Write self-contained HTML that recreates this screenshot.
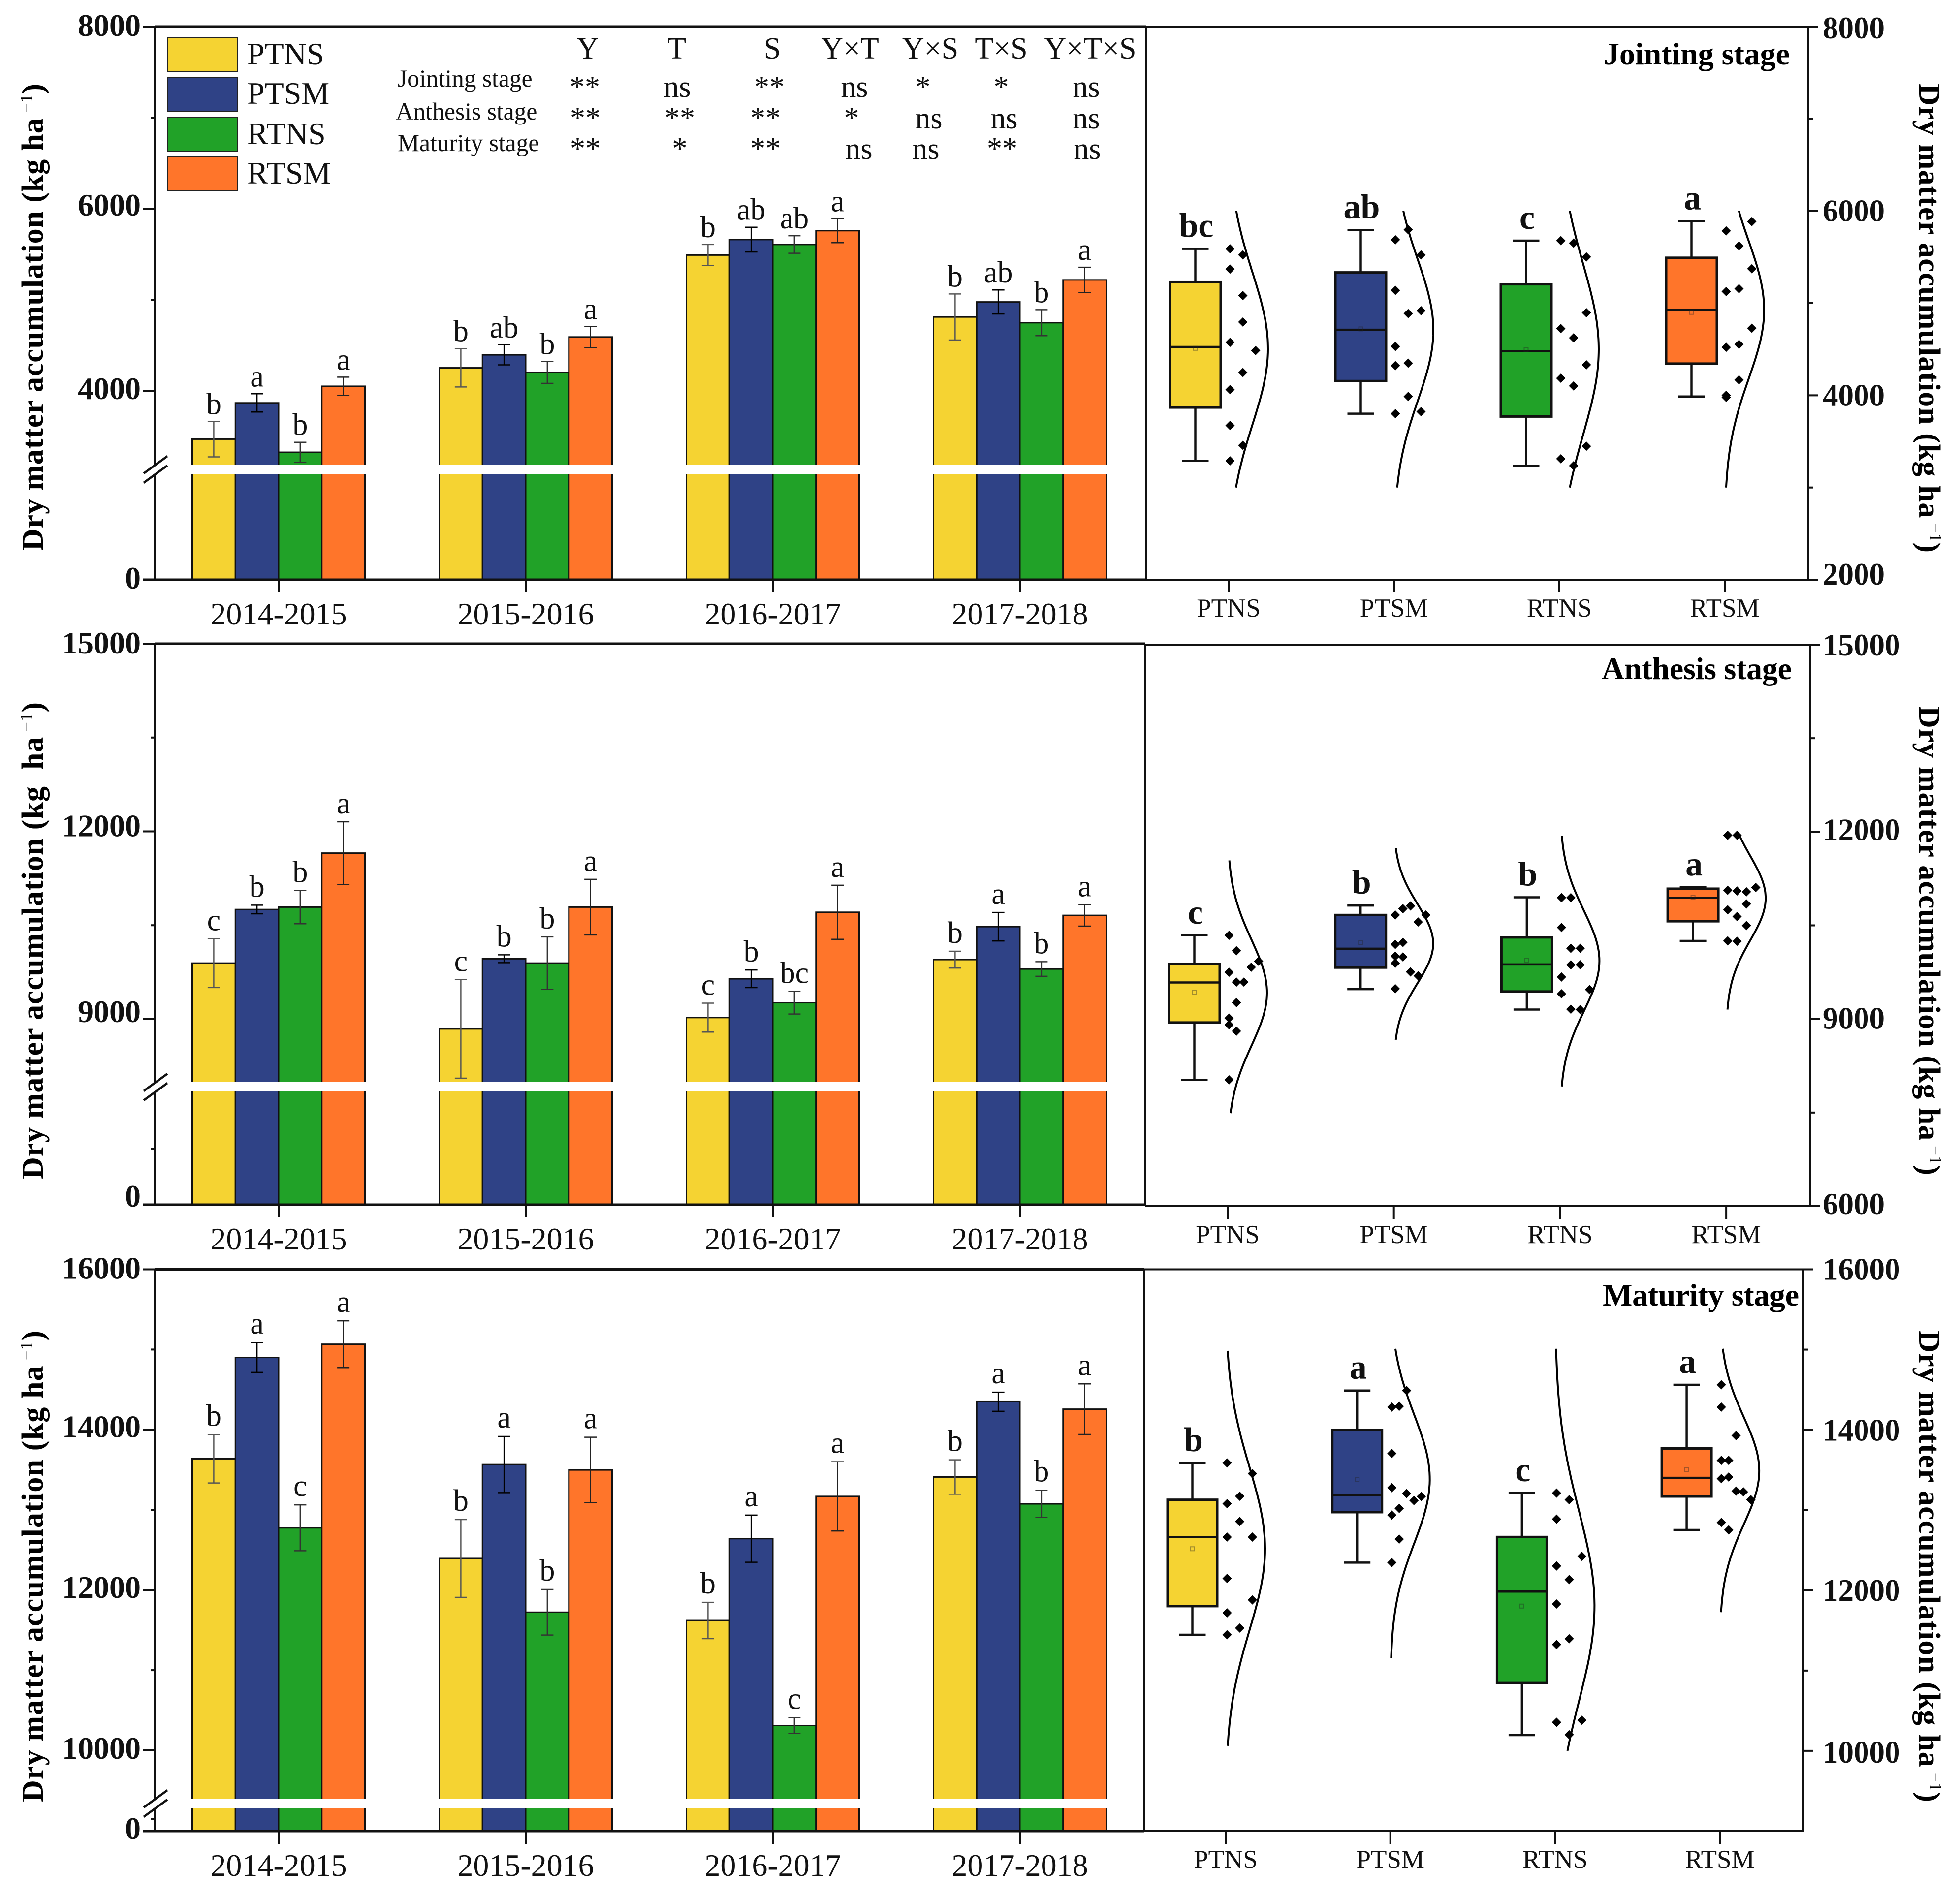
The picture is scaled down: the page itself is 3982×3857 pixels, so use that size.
<!DOCTYPE html>
<html lang="en">
<head>
<meta charset="utf-8">
<title>Dry matter accumulation by stage</title>
<style>
html,body{margin:0;padding:0;background:#fff;}
svg{display:block;font-family:"Liberation Serif",serif;}
.sig{font-size:62px;text-anchor:middle;fill:#111;}
.row{font-size:49.5px;fill:#111;}
.legend{font-size:64px;fill:#111;}
.stage{font-size:64px;font-weight:bold;fill:#000;}
.ytitle{font-size:62px;font-weight:bold;fill:#000;}
.sup{font-size:35px;font-weight:normal;}
.minus{font-size:35px;font-weight:normal;fill:#aaa;}
</style>
</head>
<body>
<svg id="chart" xmlns="http://www.w3.org/2000/svg" width="3982" height="3857" viewBox="0 0 3982 3857">
  <rect x="0" y="0" width="3982" height="3857" fill="#fff"/>
  <g id="marks"></g>

  <g>
    <rect x="340" y="77" width="142" height="68" fill="#F5D332" stroke="#222" stroke-width="2"/>
    <rect x="340" y="158" width="142" height="68" fill="#2F4286" stroke="#222" stroke-width="2"/>
    <rect x="340" y="238" width="142" height="69" fill="#21A228" stroke="#222" stroke-width="2"/>
    <rect x="340" y="318" width="142" height="69" fill="#FF752A" stroke="#222" stroke-width="2"/>
    <text class="legend" x="502" y="131">PTNS</text>
    <text class="legend" x="502" y="211">PTSM</text>
    <text class="legend" x="502" y="293">RTNS</text>
    <text class="legend" x="502" y="373">RTSM</text>
  </g>

  <g>
    <text class="sig" x="1194" y="119">Y</text>
    <text class="sig" x="1375" y="119">T</text>
    <text class="sig" x="1569" y="119">S</text>
    <text class="sig" x="1727" y="119">Y×T</text>
    <text class="sig" x="1890" y="119">Y×S</text>
    <text class="sig" x="2034" y="119">T×S</text>
    <text class="sig" x="2215" y="119">Y×T×S</text>

    <text class="row" x="808" y="176">Jointing stage</text>
    <text class="row" x="804" y="243">Anthesis stage</text>
    <text class="row" x="808" y="307">Maturity stage</text>

    <text class="sig" x="1188" y="197">**</text>
    <text class="sig" x="1376" y="197">ns</text>
    <text class="sig" x="1563" y="197">**</text>
    <text class="sig" x="1736" y="197">ns</text>
    <text class="sig" x="1875" y="197">*</text>
    <text class="sig" x="2034" y="197">*</text>
    <text class="sig" x="2207" y="197">ns</text>

    <text class="sig" x="1189" y="260">**</text>
    <text class="sig" x="1381" y="260">**</text>
    <text class="sig" x="1555" y="260">**</text>
    <text class="sig" x="1730" y="260">*</text>
    <text class="sig" x="1887" y="261">ns</text>
    <text class="sig" x="2040" y="261">ns</text>
    <text class="sig" x="2207" y="261">ns</text>

    <text class="sig" x="1189" y="322">**</text>
    <text class="sig" x="1381" y="322">*</text>
    <text class="sig" x="1555" y="322">**</text>
    <text class="sig" x="1745" y="323">ns</text>
    <text class="sig" x="1881" y="323">ns</text>
    <text class="sig" x="2036" y="322">**</text>
    <text class="sig" x="2209" y="323">ns</text>
  </g>

  <text class="stage" x="3258" y="131" textLength="378">Jointing stage</text>
  <text class="stage" x="3254" y="1380" textLength="386">Anthesis stage</text>
  <text class="stage" x="3256" y="2653" textLength="399">Maturity stage</text>

  <text class="ytitle" transform="translate(87 1119) rotate(-90)" textLength="949">Dry matter accumulation (kg ha<tspan class="minus" dy="-22"> −</tspan><tspan class="sup">1</tspan><tspan dy="22">)</tspan></text>
  <text class="ytitle" transform="translate(87 2396) rotate(-90)" textLength="969">Dry matter accumulation (kg&#160;&#160;ha<tspan class="minus" dy="-22"> −</tspan><tspan class="sup">1</tspan><tspan dy="22">)</tspan></text>
  <text class="ytitle" transform="translate(87 3662) rotate(-90)" textLength="958">Dry matter accumulation (kg ha<tspan class="minus" dy="-22"> −</tspan><tspan class="sup">1</tspan><tspan dy="22">)</tspan></text>
  <text class="ytitle" transform="translate(3899 170) rotate(90)" textLength="953">Dry matter accumulation (kg ha<tspan class="minus" dy="-22"> −</tspan><tspan class="sup">1</tspan><tspan dy="22">)</tspan></text>
  <text class="ytitle" transform="translate(3899 1435) rotate(90)" textLength="953">Dry matter accumulation (kg ha<tspan class="minus" dy="-22"> −</tspan><tspan class="sup">1</tspan><tspan dy="22">)</tspan></text>
  <text class="ytitle" transform="translate(3899 2704) rotate(90)" textLength="958">Dry matter accumulation (kg ha<tspan class="minus" dy="-22"> −</tspan><tspan class="sup">1</tspan><tspan dy="22">)</tspan></text>
</svg>

<script>
const years = ['2014-2015', '2015-2016', '2016-2017', '2017-2018'];
const treatments = ['PTNS', 'PTSM', 'RTNS', 'RTSM'];
const treatmentColors = ['#F5D332', '#2F4286', '#21A228', '#FF752A'];
const errorBarColors = ['#555', '#000', '#333', '#222'];

/* ---------- bar panels: [year][treatment] ---------- */
const jointingBars = [[3468, 3866, 3324, 4049], [4251, 4394, 4201, 4590], [5490, 5660, 5606, 5758], [4810, 4975, 4747, 5217]];
const jointingErrors = [[195, 100, 110, 100], [210, 110, 120, 116], [116, 136, 96, 132], [253, 132, 143, 139]];
const jointingLetters = [['b', 'a', 'b', 'a'], ['b', 'ab', 'b', 'a'], ['b', 'ab', 'ab', 'a'], ['b', 'ab', 'b', 'a']];
const anthesisBars = [[9895, 10752, 10790, 11653], [8844, 9964, 9895, 10790], [9025, 9644, 9263, 10708], [9951, 10477, 9801, 10658]];
const anthesisErrors = [[391, 69, 266, 500], [788, 63, 419, 444], [231, 141, 181, 432], [134, 228, 116, 172]];
const anthesisLetters = [['c', 'b', 'b', 'a'], ['c', 'b', 'b', 'a'], ['c', 'b', 'bc', 'a'], ['b', 'a', 'b', 'a']];
const maturityBars = [[13637, 14901, 12776, 15066], [12394, 13565, 11723, 13498], [11620, 12641, 10310, 13168], [13410, 14349, 13075, 14256]];
const maturityErrors = [[302, 186, 286, 292], [485, 351, 284, 408], [227, 294, 98, 431], [214, 119, 170, 315]];
const maturityLetters = [['b', 'a', 'c', 'a'], ['b', 'a', 'b', 'a'], ['b', 'a', 'c', 'a'], ['b', 'a', 'b', 'a']];

/* ---------- axis ticks ---------- */
const jointingLeftTicks = [8000, 6000, 4000];
const jointingLeftMinor = [7000, 5000];
const jointingRightTicks = [8000, 6000, 4000, 2000];
const jointingRightMinor = [7000, 5000, 3000];
const anthesisLeftTicks = [15000, 12000, 9000];
const anthesisLeftMinor = [13500, 10500];
const anthesisRightTicks = [15000, 12000, 9000, 6000];
const anthesisRightMinor = [13500, 10500, 7500];
const maturityLeftTicks = [16000, 14000, 12000, 10000];
const maturityLeftMinor = [15000, 13000, 11000];
const maturityRightTicks = [16000, 14000, 12000, 10000];
const maturityRightMinor = [15000, 13000, 11000];

/* ---------- box plots: one value per treatment ---------- */
const jointingWhiskerHigh = [5589, 5793, 5678, 5890];
const jointingQ3 = [5227, 5333, 5205, 5492];
const jointingMedian = [4525, 4711, 4481, 4927];
const jointingQ1 = [3868, 4155, 3770, 4344];
const jointingWhiskerLow = [3289, 3801, 3236, 3987];
const jointingMean = [4510, 4720, 4495, 4900];
const jointingBoxLetters = ['bc', 'ab', 'c', 'a'];
const jointingCurveMean = [4508, 4706, 4499, 4927];
const jointingCurveSd = [826, 764, 923, 750];
const jointingCurveLow = [3000, 3000, 3000, 3000];
const jointingCurveHigh = [6000, 6000, 6000, 6000];
const jointingPointValues = [
  [5589, 5369, 4574, 4062, 3673, 3289, 5523, 5082, 4795, 4247, 3457, 4486],
  [5687, 5139, 4530, 4322, 3801, 5797, 4887, 4349, 3987, 5523, 4918, 3823],
  [5678, 4724, 4185, 3311, 5651, 4623, 4102, 3236, 5501, 4896, 4331, 3448],
  [5784, 5126, 4521, 4000, 3978, 5620, 5157, 4552, 4168, 5885, 5373, 4728]
];
const jointingPointColumns = [
  [0, 0, 0, 0, 0, 0, 1, 1, 1, 1, 1, 2],
  [0, 0, 0, 0, 0, 1, 1, 1, 1, 2, 2, 2],
  [0, 0, 0, 0, 1, 1, 1, 1, 2, 2, 2, 2],
  [0, 0, 0, 0, 0, 1, 1, 1, 1, 2, 2, 2]
];

const anthesisWhiskerHigh = [10340, 10818, 10950, 11113];
const anthesisQ3 = [9881, 10667, 10308, 11088];
const anthesisMedian = [9585, 10126, 9874, 10944];
const anthesisQ1 = [8943, 9824, 9440, 10566];
const anthesisWhiskerLow = [8025, 9478, 9151, 10252];
const anthesisMean = [9428, 10220, 9943, 10950];
const anthesisBoxLetters = ['c', 'b', 'b', 'a'];
const anthesisCurveMean = [9421, 10208, 9931, 10937];
const anthesisCurveSd = [850, 630, 805, 680];
const anthesisCurveLow = [7490, 8667, 7918, 9151];
const anthesisCurveHigh = [11541, 11736, 11937, 11944];
const anthesisPointValues = [
  [10340, 9749, 9013, 8906, 8025, 10094, 9591, 9264, 8805, 9591, 9830, 9925],
  [10667, 10195, 10006, 9893, 9484, 10767, 10227, 9994, 10812, 9755, 10554, 9692, 10667],
  [10944, 10466, 9673, 9403, 10944, 10132, 9868, 9157, 10132, 9868, 9151, 9472],
  [11944, 11063, 10749, 10252, 11944, 11051, 10642, 10245, 11038, 10843, 10497, 11107]
];
const anthesisPointColumns = [
  [0, 0, 0, 0, 0, 1, 1, 1, 1, 2, 3, 4],
  [0, 0, 0, 0, 0, 1, 1, 1, 2, 2, 3, 3, 4],
  [0, 0, 0, 0, 1, 1, 1, 1, 2, 2, 2, 3],
  [0, 0, 0, 0, 1, 1, 1, 1, 2, 2, 2, 3]
];

const maturityWhiskerHigh = [13588, 14490, 13212, 14562];
const maturityQ3 = [13129, 13995, 12665, 13768];
const maturityMedian = [12664, 13186, 11985, 13402];
const maturityQ1 = [11803, 12974, 10845, 13170];
const maturityWhiskerLow = [11447, 12346, 10196, 12753];
const maturityMean = [12518, 13382, 11804, 13505];
const maturityBoxLetters = ['b', 'a', 'c', 'a'];
const maturityCurveMean = [12519, 13387, 11804, 13490];
const maturityCurveSd = [1016, 800, 1185, 670];
const maturityCurveLow = [10062, 11155, 10000, 11727];
const maturityCurveHigh = [14985, 15011, 15011, 15011];
const maturityPointValues = [
  [13588, 13080, 12664, 12148, 11720, 11447, 13173, 12858, 11530, 13455, 12664, 11881],
  [14284, 13706, 13279, 12938, 12346, 14294, 13021, 12639, 14490, 13206, 13119, 13170],
  [13212, 12887, 12304, 11830, 11325, 10356, 13129, 12134, 11397, 10201, 12423, 10381],
  [14562, 14284, 13619, 13392, 12846, 13619, 13412, 12753, 13928, 13237, 13227, 13129]
];
const maturityPointColumns = [
  [0, 0, 0, 0, 0, 0, 1, 1, 1, 2, 2, 2],
  [0, 0, 0, 0, 0, 1, 1, 1, 2, 2, 3, 4],
  [0, 0, 0, 0, 0, 0, 1, 1, 1, 1, 2, 2],
  [0, 0, 0, 0, 0, 1, 1, 1, 2, 2, 3, 4]
];

/* ---------- panel wiring and layout ---------- */
const panels = [
  { key: 'jointing', bars: jointingBars, errors: jointingErrors, letters: jointingLetters,
    leftTicks: jointingLeftTicks, leftMinor: jointingLeftMinor, rightTicks: jointingRightTicks, rightMinor: jointingRightMinor,
    wHigh: jointingWhiskerHigh, q3: jointingQ3, med: jointingMedian, q1: jointingQ1, wLow: jointingWhiskerLow, mean: jointingMean,
    boxLetters: jointingBoxLetters, cMean: jointingCurveMean, cSd: jointingCurveSd, cLow: jointingCurveLow, cHigh: jointingCurveHigh,
    pts: jointingPointValues, cols: jointingPointColumns,
    leftTop: 54, bottom: 1178, leftMaxY: 54, leftRefV: 4000, leftRefY: 794, bandTop: 944, bandBottom: 964,
    rightTop: 54, rightBottom: 1178, rightMin: 2000, mid: 2328, right: 3673, tick0: 2496, tickStep: 336, boxW: 103,
    steps: [26, 26, 26, 26], leftDy: [19, 14, 17], rightDy: [24, 21, 21, 10], zeroDy: 18, letterGap: 15, lowerMinorY: null },
  { key: 'anthesis', bars: anthesisBars, errors: anthesisErrors, letters: anthesisLetters,
    leftTicks: anthesisLeftTicks, leftMinor: anthesisLeftMinor, rightTicks: anthesisRightTicks, rightMinor: anthesisRightMinor,
    wHigh: anthesisWhiskerHigh, q3: anthesisQ3, med: anthesisMedian, q1: anthesisQ1, wLow: anthesisWhiskerLow, mean: anthesisMean,
    boxLetters: anthesisBoxLetters, cMean: anthesisCurveMean, cSd: anthesisCurveSd, cLow: anthesisCurveLow, cHigh: anthesisCurveHigh,
    pts: anthesisPointValues, cols: anthesisPointColumns,
    leftTop: 1308, bottom: 2448, leftMaxY: 1308, leftRefV: 9000, leftRefY: 2071, bandTop: 2199, bandBottom: 2218,
    rightTop: 1310, rightBottom: 2451, rightMin: 6000, mid: 2327, right: 3677, tick0: 2494, tickStep: 337.7, boxW: 103,
    steps: [15, 15.5, 19, 19], leftDy: [20, 10, 6], rightDy: [22, 17, 20, 17], zeroDy: 4, letterGap: 17, lowerMinorY: 2334 },
  { key: 'maturity', bars: maturityBars, errors: maturityErrors, letters: maturityLetters,
    leftTicks: maturityLeftTicks, leftMinor: maturityLeftMinor, rightTicks: maturityRightTicks, rightMinor: maturityRightMinor,
    wHigh: maturityWhiskerHigh, q3: maturityQ3, med: maturityMedian, q1: maturityQ1, wLow: maturityWhiskerLow, mean: maturityMean,
    boxLetters: maturityBoxLetters, cMean: maturityCurveMean, cSd: maturityCurveSd, cLow: maturityCurveLow, cHigh: maturityCurveHigh,
    pts: maturityPointValues, cols: maturityPointColumns,
    leftTop: 2579.5, bottom: 3721, leftMaxY: 2579.5, leftRefV: 10000, leftRefY: 3557, bandTop: 3655, bandBottom: 3674,
    rightTop: 2579.5, rightBottom: 3721, rightMin: 9000, mid: 2324, right: 3663, tick0: 2490, tickStep: 334.7, boxW: 101,
    steps: [25.7, 15, 25.7, 15], leftDy: [19, 15, 16, 17], rightDy: [21, 22, 21, 24], zeroDy: 16, letterGap: 18, lowerMinorY: 3696 }
];
const rightAxisMax = { jointing: 8000, anthesis: 15000, maturity: 16000 };

const NS = 'http://www.w3.org/2000/svg';
const AXIS_X = 315, GROUP0 = 566, GROUP_STEP = 502, BAR_W = 87.75, CURVE_AMP = 80, BOX_OFFSET = -67.5;
const root = document.getElementById('marks');

function add(parent, tag, attrs, content) {
  const node = document.createElementNS(NS, tag);
  for (const k in attrs) node.setAttribute(k, attrs[k]);
  if (content !== undefined) node.textContent = content;
  parent.appendChild(node);
  return node;
}
function yLeft(p, v) {
  const max = p.leftTicks[0];
  return p.leftMaxY + (max - v) * (p.leftRefY - p.leftMaxY) / (max - p.leftRefV);
}
function yRight(p, v) {
  const max = rightAxisMax[p.key];
  return p.rightTop + (max - v) * (p.rightBottom - p.rightTop) / (max - p.rightMin);
}
function xGroup(i) { return GROUP0 + i * GROUP_STEP; }
function xBar(i, j) { return xGroup(i) - 2 * BAR_W + j * BAR_W; }
function xCat(p, j) { return p.tick0 + j * p.tickStep; }

function drawLine(parent, name, x1, y1, x2, y2, w, color) {
  const el = add(parent, 'line', { x1, y1, x2, y2, stroke: color || '#111', 'stroke-width': w });
  
  
  return el;
}
function drawText(parent, name, x, y, txt, size, weight, anchor) {
  const el = add(parent, 'text', { x, y, 'font-size': size, 'font-weight': weight, 'text-anchor': anchor, fill: '#111' }, txt);
  
  
  return el;
}

panels.forEach(function (p) {
  const g = add(root, 'g', {});
  
  

  /* bars, error bars, letters */
  p.bars.forEach(function (row, i) {
    const group = add(g, 'g', {});
    
    
    row.forEach(function (v, j) {
      const y = yLeft(p, v);
      const bar = add(group, 'rect', { x: xBar(i, j), y: y, width: BAR_W, height: p.bottom - y, fill: treatmentColors[j], stroke: '#111', 'stroke-width': 3 });
      
      
    });
    row.forEach(function (v, j) {
      const cx = xBar(i, j) + BAR_W / 2, e = p.errors[i][j], c = errorBarColors[j];
      const hi = yLeft(p, v + e), lo = yLeft(p, v - e);
      drawLine(group, 'error-bar-stem', cx, hi, cx, lo, 2.5, c);
      drawLine(group, 'error-bar-cap-top', cx - 12.5, hi, cx + 12.5, hi, 2.5, c);
      drawLine(group, 'error-bar-cap-bottom', cx - 12.5, lo, cx + 12.5, lo, 2.5, c);
      drawText(group, 'significance-letter', cx, hi - p.letterGap, p.letters[i][j], 62, 'normal', 'middle');
    });
  });

  /* white axis-break band */
  const band = add(g, 'rect', { x: AXIS_X - 6, y: p.bandTop, width: p.mid - AXIS_X, height: p.bandBottom - p.bandTop, fill: '#fff' });
  
  

  /* frame */
  drawLine(g, 'left-axis-upper', AXIS_X, p.leftTop - 2, AXIS_X, p.bandTop, 4);
  drawLine(g, 'left-axis-lower', AXIS_X, p.bandBottom, AXIS_X, p.bottom, 4);
  drawLine(g, 'top-frame-left', AXIS_X, p.leftTop, p.mid, p.leftTop, 5);
  drawLine(g, 'top-frame-right', p.mid, p.rightTop, p.right, p.rightTop, 4);
  drawLine(g, 'panel-divider', p.mid, p.leftTop, p.mid, p.rightBottom, 4);
  drawLine(g, 'bottom-axis-left', 291, p.bottom, p.mid, p.bottom, 5);
  drawLine(g, 'bottom-axis-right', p.mid, p.rightBottom, p.right, p.rightBottom, 4);
  drawLine(g, 'right-axis', p.right, p.rightTop - 2, p.right, p.rightBottom + 2, 4);
  drawLine(g, 'axis-break-slash-upper', 340, p.bandTop - 17, 292, p.bandTop + 18, 4.5);
  drawLine(g, 'axis-break-slash-lower', 340, p.bandTop + 2, 292, p.bandTop + 37, 4.5);

  /* left ticks */
  p.leftTicks.forEach(function (v, t) {
    const y = yLeft(p, v);
    drawLine(g, 'left-tick', 291, y, AXIS_X, y, 4);
    drawText(g, 'left-tick-label', 286, y + p.leftDy[t], String(v), 64, 'bold', 'end');
  });
  p.leftMinor.forEach(function (v) {
    const y = yLeft(p, v);
    drawLine(g, 'left-minor-tick', 306, y, AXIS_X, y, 4);
  });
  if (p.lowerMinorY) drawLine(g, 'left-minor-tick-lower', 306, p.lowerMinorY, AXIS_X, p.lowerMinorY, 4);
  drawText(g, 'left-tick-label-zero', 286, p.bottom + p.zeroDy, '0', 64, 'bold', 'end');

  /* x ticks, left */
  years.forEach(function (yr, i) {
    drawLine(g, 'x-tick-year', xGroup(i), p.bottom, xGroup(i), p.bottom + 26, 4);
    drawText(g, 'x-tick-label-year', xGroup(i), p.bottom + 91, yr, 64, 'normal', 'middle');
  });

  /* right axis ticks */
  p.rightTicks.forEach(function (v, t) {
    const y = yRight(p, v);
    drawLine(g, 'right-tick', p.right, y, p.right + 20, y, 4);
    drawText(g, 'right-tick-label', 3703, y + p.rightDy[t], String(v), 63, 'bold', 'start');
  });
  p.rightMinor.forEach(function (v) {
    const y = yRight(p, v);
    drawLine(g, 'right-minor-tick', p.right, y, p.right + 10, y, 4);
  });

  /* boxes, points, curves */
  treatments.forEach(function (t, j) {
    const tx = xCat(p, j), cx = tx + BOX_OFFSET, hw = p.boxW / 2;
    const cat = add(g, 'g', {});
    
    

    drawLine(cat, 'x-tick-treatment', tx, p.rightBottom, tx, p.rightBottom + 26, 4);
    drawText(cat, 'x-tick-label-treatment', tx, p.rightBottom + 75, t, 53, 'normal', 'middle');

    const yHi = yRight(p, p.wHigh[j]), yLo = yRight(p, p.wLow[j]);
    const yQ3 = yRight(p, p.q3[j]), yQ1 = yRight(p, p.q1[j]), yMed = yRight(p, p.med[j]);
    drawLine(cat, 'whisker-stem', cx, yHi, cx, yLo, 4.5);
    drawLine(cat, 'whisker-cap-high', cx - 27, yHi, cx + 27, yHi, 4.5);
    drawLine(cat, 'whisker-cap-low', cx - 27, yLo, cx + 27, yLo, 4.5);
    const box = add(cat, 'rect', { x: cx - hw, y: yQ3, width: p.boxW, height: yQ1 - yQ3, fill: treatmentColors[j], stroke: '#111', 'stroke-width': 5 });
    
    
    drawLine(cat, 'box-median', cx - hw, yMed, cx + hw, yMed, 4.5);
    const yMean = yRight(p, p.mean[j]);
    const meanMark = add(cat, 'rect', { x: cx - 4, y: yMean - 4, width: 8, height: 8, fill: 'none', stroke: '#222', 'stroke-opacity': 0.4, 'stroke-width': 2 });
    
    

    drawText(cat, 'box-significance-letter', cx + 2, yHi - 24, p.boxLetters[j], 70, 'bold', 'middle');

    p.pts[j].forEach(function (v, k) {
      const px = tx + 3 + p.cols[j][k] * p.steps[j], py = yRight(p, v);
      const pt = add(cat, 'polygon', { points: [px, py - 9.5, px + 9.5, py, px, py + 9.5, px - 9.5, py].join(' '), fill: '#000' });
      
      
    });

    const d = [];
    const low = p.cLow[j], high = p.cHigh[j], mu = p.cMean[j], sd = p.cSd[j];
    for (let s = 0; s <= 80; s++) {
      const v = low + (high - low) * s / 80, z = (v - mu) / sd;
      d.push((s ? 'L' : 'M') + (tx + CURVE_AMP * Math.exp(-0.5 * z * z)).toFixed(1) + ' ' + yRight(p, v).toFixed(1));
    }
    const curve = add(cat, 'path', { d: d.join(''), fill: 'none', stroke: '#000', 'stroke-width': 4 });
    
    
  });
});
</script>
</body>
</html>
